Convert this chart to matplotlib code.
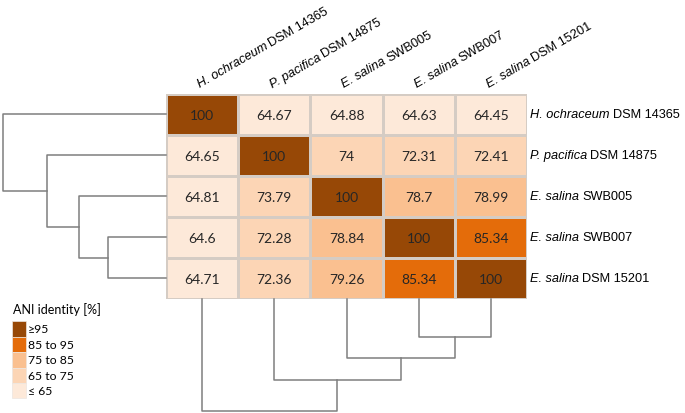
import matplotlib
matplotlib.use("Agg")
import matplotlib.pyplot as plt
import matplotlib.transforms as mtrans
import numpy as np
from matplotlib.colors import ListedColormap, BoundaryNorm
from matplotlib.patches import Rectangle

plt.rcParams['font.family'] = ['Liberation Sans', 'DejaVu Sans']

# strains (row/column order)
species = ['H. ochraceum', 'P. pacifica', 'E. salina', 'E. salina', 'E. salina']
strains = ['DSM 14365', 'DSM 14875', 'SWB005', 'SWB007', 'DSM 15201']

# ANI identity matrix [%]
ani = [
    [100, 64.67, 64.88, 64.63, 64.45],
    [64.65, 100, 74, 72.31, 72.41],
    [64.81, 73.79, 100, 78.7, 78.99],
    [64.6, 72.28, 78.84, 100, 85.34],
    [64.71, 72.36, 79.26, 85.34, 100],
]
cell_text = [
    ['100', '64.67', '64.88', '64.63', '64.45'],
    ['64.65', '100', '74', '72.31', '72.41'],
    ['64.81', '73.79', '100', '78.7', '78.99'],
    ['64.6', '72.28', '78.84', '100', '85.34'],
    ['64.71', '72.36', '79.26', '85.34', '100'],
]

# colour classes
bounds = [0, 65, 75, 85, 95, 101]
class_colors = ['#FDE9D9', '#FCD5B5', '#FAC090', '#E46C0A', '#974806']
legend_labels = ['\u226595', '85 to 95', '75 to 85', '65 to 75', '\u2264 65']

# dendrogram merges: (cluster a, cluster b, height)
row_merges = [(3, 4, 58), (2, 5, 87), (1, 6, 119), (0, 7, 163)]
col_merges = [(3, 4, 38), (2, 5, 59), (1, 6, 81), (0, 7, 112)]


def draw_dendro(ax, merges, n, orient):
    pos = {i: float(i) for i in range(n)}
    hgt = {i: 0.0 for i in range(n)}
    k = n
    for a, b, h in merges:
        ps = [pos[a], pos[a], pos[b], pos[b]]
        hs = [hgt[a], h, h, hgt[b]]
        if orient == 'left':
            ax.plot(hs, ps, color='#7F7F7F', lw=1.1, clip_on=False)
        else:
            ax.plot(ps, hs, color='#7F7F7F', lw=1.1, clip_on=False)
        pos[k] = (pos[a] + pos[b]) / 2
        hgt[k] = h
        k += 1


def strain_label(ax, x, y, sp, st, rot=0, fs=9.2, **kw):
    # italic species name followed by upright strain name
    t = ax.text(x, y, sp, style='italic', fontsize=fs, rotation=0, **kw)
    w = t.get_window_extent(renderer).width + 3.0
    t.set_rotation(rot)
    a = np.deg2rad(rot)
    tr = mtrans.offset_copy(ax.transData, fig=fig, x=w * np.cos(a), y=w * np.sin(a), units='dots')
    ax.text(x, y, st, fontsize=fs, rotation=rot, transform=tr, **kw)


W, H = 685, 414
fig = plt.figure(figsize=(6.85, 4.14), dpi=100)
renderer = fig.canvas.get_renderer()

# legend drawn on a pixel-coordinate overlay
axg = fig.add_axes([0, 0, 1, 1])
axg.set_xlim(0, W)
axg.set_ylim(H, 0)
axg.axis('off')
axg.text(13, 310, 'ANI identity [%]', ha='left', va='center', fontsize=9, family='Lato')
for k, (c, lab) in enumerate(zip(class_colors[::-1], legend_labels)):
    y0 = 322 + k * 15.5
    axg.add_patch(Rectangle((12, y0), 14, 15.5, facecolor=c, edgecolor='#ECE6E0', lw=0.5))
    axg.text(28, y0 + 8, lab, ha='left', va='center', fontsize=8.8, family='Lato')

hx0, hx1, hy0, hy1 = 166, 527, 94.5, 299.5
ax = fig.add_axes([hx0 / W, 1 - hy1 / H, (hx1 - hx0) / W, (hy1 - hy0) / H])
cmap = ListedColormap(class_colors)
norm = BoundaryNorm(bounds, cmap.N)
data = np.array(ani)
n = len(strains)
ax.pcolormesh(np.arange(n + 1) - 0.5, np.arange(n + 1) - 0.5, data, cmap=cmap, norm=norm,
              edgecolor='#D5CCC4', linewidth=0.8)
ax.set_xlim(-0.5, n - 0.5)
ax.set_ylim(n - 0.5, -0.5)
ax.axis('off')

for i in range(n):
    for j in range(n):
        ax.text(j, i + 0.03, cell_text[i][j], ha='center', va='center', fontsize=10,
                family='Lato', color='#262626')

for i in range(n):
    strain_label(ax, n - 0.5 + 0.045, i, species[i], strains[i], ha='left', va='center')
    strain_label(ax, i - 0.03, -0.66, species[i], strains[i], rot=30, ha='left',
                 va='baseline', rotation_mode='anchor')

# row dendrogram on the left
axl = fig.add_axes([0, 1 - hy1 / H, hx0 / W, (hy1 - hy0) / H])
draw_dendro(axl, row_merges, n, 'left')
axl.set_xlim(hx0, 0)
axl.set_ylim(n - 0.5, -0.5)
axl.axis('off')

# column dendrogram below
axb = fig.add_axes([hx0 / W, 0, (hx1 - hx0) / W, 1 - hy1 / H])
draw_dendro(axb, col_merges, n, 'bottom')
axb.set_xlim(-0.5, n - 0.5)
axb.set_ylim(H - hy1, 0)
axb.axis('off')

fig.savefig('out.png', dpi=100)
